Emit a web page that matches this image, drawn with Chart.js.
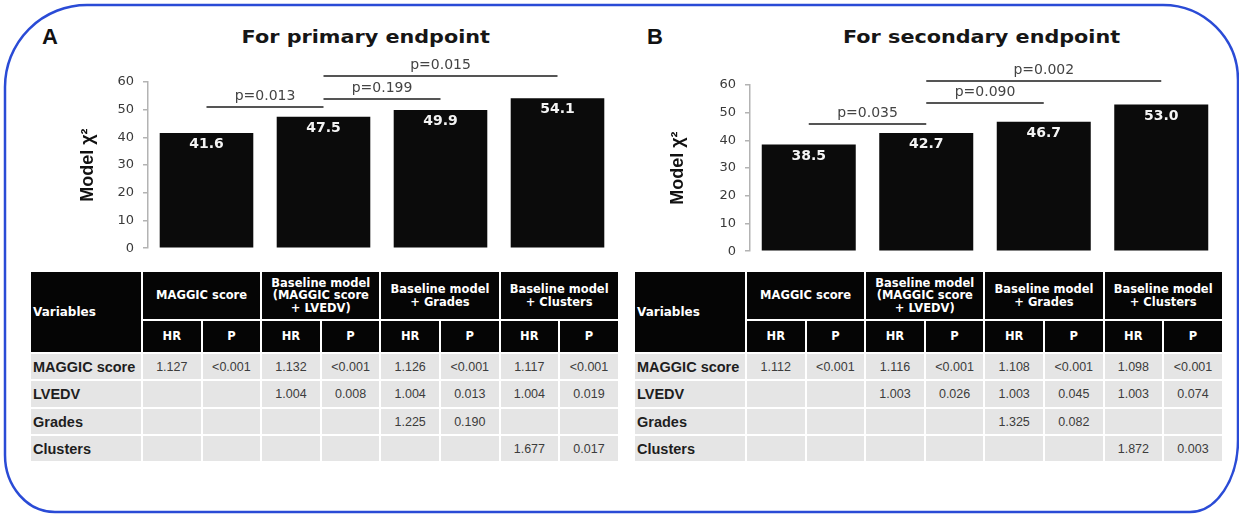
<!DOCTYPE html>
<html lang="en">
<head>
<meta charset="utf-8">
<title>Model χ² for primary and secondary endpoints</title>
<script src="https://cdn.jsdelivr.net/npm/chart.js@4.4.1/dist/chart.umd.min.js"></script>
<style>
  html, body { margin: 0; padding: 0; background: #fff; }
  body { position: relative; width: 1239px; height: 515px; overflow: hidden; font-family: "Liberation Sans", Arial, sans-serif; }
  #frame { position: absolute; left: 0; top: 0; }
  .letter { position: absolute; top: 26px; font: bold 22px/22px "Liberation Sans", Arial, sans-serif; color: #111; }
  .title { position: absolute; top: 29px; width: 600px; margin-left: -300px; text-align: center;
           font: bold 17px/17px "DejaVu Sans", sans-serif; color: #161616; white-space: nowrap; }
  .title span { display: inline-block; transform: scaleX(1.22); }
  canvas { position: absolute; top: 0; }
  .grid { position: absolute; top: 272px; display: grid; gap: 2px; background: #fff;
          grid-template-columns: 110px repeat(8, 57.6px);
          grid-template-rows: 47px 31px 25px 26px 25px 25px; }
  .grid > div { display: flex; align-items: center; justify-content: center; text-align: center; box-sizing: border-box; }
  .hd { background: #050505; color: #fff; font: bold 11.5px/12.5px "DejaVu Sans", sans-serif; }
  .hd.var { justify-content: flex-start; padding-left: 2px; font-size: 12px; }
  .bd { background: #e5e5e5; color: #3c3c3c; font: 12.5px "Liberation Sans", Arial, sans-serif; }
  .bd.var { justify-content: flex-start; padding-left: 2px; font: bold 14.5px "Liberation Sans", Arial, sans-serif; color: #1e1e1e; }
</style>
</head>
<body>
<svg id="frame" width="1239" height="515">
  <path d="M 87 5 L 1163 5 A 75 75 0 0 1 1238 80 L 1238 440 A 48 72 0 0 1 1190 512 L 55 512 A 50 57 0 0 1 5 455 L 5 87 A 82 82 0 0 1 87 5 Z"
        fill="none" stroke="#2a4bd6" stroke-width="2.5"/>
</svg>

<div class="letter" style="left:42px">A</div>
<div class="title" style="left:366px"><span>For primary endpoint</span></div>
<canvas id="chartA" width="630" height="265" style="left:0"></canvas>
<div class="grid" id="tableA" style="left:31px"></div>

<div class="letter" style="left:647px">B</div>
<div class="title" style="left:982px"><span>For secondary endpoint</span></div>
<canvas id="chartB" width="635" height="268" style="left:600px"></canvas>
<div class="grid" id="tableB" style="left:635px"></div>

<script>
// Cox models compared in both panels
const models = ['MAGGIC score', 'Baseline model\n(MAGGIC score\n+ LVEDV)', 'Baseline model\n+ Grades', 'Baseline model\n+ Clusters'];
const variables = ['MAGGIC score', 'LVEDV', 'Grades', 'Clusters'];
const yTicks = [0, 10, 20, 30, 40, 50, 60];

// Model chi-square
const chiPrimary = [41.6, 47.5, 49.9, 54.1];
const chiSecondary = [38.5, 42.7, 46.7, 53.0];

// Likelihood-ratio comparisons between models (indices into models)
const primaryPairs = [[0, 1], [1, 2], [1, 3]];
const primaryPValues = ['p=0.013', 'p=0.199', 'p=0.015'];
const secondaryPairs = [[0, 1], [1, 2], [1, 3]];
const secondaryPValues = ['p=0.035', 'p=0.090', 'p=0.002'];

// Hazard ratios and P values: rows = variables, columns = models
const primaryHR = [
  ['1.127', '1.132', '1.126', '1.117'],
  ['',      '1.004', '1.004', '1.004'],
  ['',      '',      '1.225', ''],
  ['',      '',      '',      '1.677']
];
const primaryP = [
  ['<0.001', '<0.001', '<0.001', '<0.001'],
  ['',       '0.008',  '0.013',  '0.019'],
  ['',       '',       '0.190',  ''],
  ['',       '',       '',       '0.017']
];
const secondaryHR = [
  ['1.112', '1.116', '1.108', '1.098'],
  ['',      '1.003', '1.003', '1.003'],
  ['',      '',      '1.325', ''],
  ['',      '',      '',      '1.872']
];
const secondaryP = [
  ['<0.001', '<0.001', '<0.001', '<0.001'],
  ['',       '0.026',  '0.045',  '0.074'],
  ['',       '',       '0.082',  ''],
  ['',       '',       '',       '0.003']
];

// White value printed inside the top of each bar
const valueLabels = {
  id: 'valueLabels',
  afterDatasetsDraw(chart) {
    const { ctx } = chart;
    const values = chart.data.datasets[0].data;
    ctx.save();
    ctx.fillStyle = '#f4f4f4';
    ctx.font = 'bold 14px "DejaVu Sans", sans-serif';
    ctx.textAlign = 'center';
    ctx.textBaseline = 'middle';
    chart.getDatasetMeta(0).data.forEach((bar, i) => {
      ctx.fillText(values[i].toFixed(1), bar.x, bar.y + 11.5);
    });
    ctx.restore();
  }
};

// Horizontal comparison bars with their p values, levels given in chi-square units
function comparisonBars(pairs, labels, levels) {
  return {
    id: 'comparisonBars',
    afterDatasetsDraw(chart) {
      const { ctx, scales: { x, y } } = chart;
      ctx.save();
      pairs.forEach(([a, b], i) => {
        const x1 = x.getPixelForValue(a);
        const x2 = x.getPixelForValue(b);
        const yy = Math.round(y.getPixelForValue(levels[i]));
        ctx.strokeStyle = '#555555';
        ctx.lineWidth = 2;
        ctx.beginPath();
        ctx.moveTo(x1, yy);
        ctx.lineTo(x2, yy);
        ctx.stroke();
        ctx.fillStyle = '#444444';
        ctx.font = '14px "DejaVu Sans", sans-serif';
        ctx.textAlign = 'center';
        ctx.textBaseline = 'middle';
        ctx.fillText(labels[i], (x1 + x2) / 2, yy - 11);
      });
      ctx.restore();
    }
  };
}

function makeChart(canvasId, values, pairs, pLabels, levels, pad, axisWidth) {
  return new Chart(document.getElementById(canvasId), {
    type: 'bar',
    data: {
      labels: models,
      datasets: [{
        data: values,
        backgroundColor: '#0b0b0b',
        borderWidth: 0,
        barPercentage: 0.8,
        categoryPercentage: 1
      }]
    },
    options: {
      responsive: false,
      animation: false,
      devicePixelRatio: 1,
      layout: { padding: pad },
      plugins: { legend: { display: false }, tooltip: { enabled: false } },
      scales: {
        x: { display: false },
        y: {
          min: 0,
          max: 60,
          afterBuildTicks: scale => { scale.ticks = yTicks.map(v => ({ value: v })); },
          afterFit: scale => { scale.width = axisWidth; },
          ticks: { color: '#3a3a3a', padding: 9, font: { family: '"DejaVu Sans", sans-serif', size: 13 } },
          grid: { drawOnChartArea: false, drawTicks: true, tickLength: 5, color: '#b3b3b3', lineWidth: 1.5 },
          border: { display: true, color: '#b3b3b3', width: 1.5 },
          title: {
            display: true,
            text: 'Model χ²',
            color: '#111111',
            padding: { top: 9, bottom: 0 },
            font: { family: '"Liberation Sans", Arial, sans-serif', size: 18, weight: 'bold' }
          }
        }
      }
    },
    plugins: [valueLabels, comparisonBars(pairs, pLabels, levels)]
  });
}

makeChart('chartA', chiPrimary, primaryPairs, primaryPValues, [50.9, 54.0, 62.1],
          { left: 68, right: 14, top: 82, bottom: 11 }, 80);
makeChart('chartB', chiSecondary, secondaryPairs, secondaryPValues, [46.0, 53.4, 61.4],
          { left: 58, right: 15, top: 85, bottom: 11 }, 92);

// Hazard-ratio tables under each chart
function esc(s) {
  return s.replace(/&/g, '&amp;').replace(/</g, '&lt;');
}
function buildTable(el, hr, p) {
  const cells = [];
  cells.push('<div class="hd var" style="grid-row:1 / span 2">Variables</div>');
  models.forEach(m => cells.push('<div class="hd" style="grid-column:span 2">' + m.split('\n').join('<br>') + '</div>'));
  models.forEach(() => cells.push('<div class="hd">HR</div><div class="hd">P</div>'));
  variables.forEach((v, r) => {
    cells.push('<div class="bd var">' + v + '</div>');
    models.forEach((m, c) => {
      cells.push('<div class="bd">' + esc(hr[r][c]) + '</div><div class="bd">' + esc(p[r][c]) + '</div>');
    });
  });
  el.innerHTML = cells.join('');
}
buildTable(document.getElementById('tableA'), primaryHR, primaryP);
buildTable(document.getElementById('tableB'), secondaryHR, secondaryP);
</script>
</body>
</html>
